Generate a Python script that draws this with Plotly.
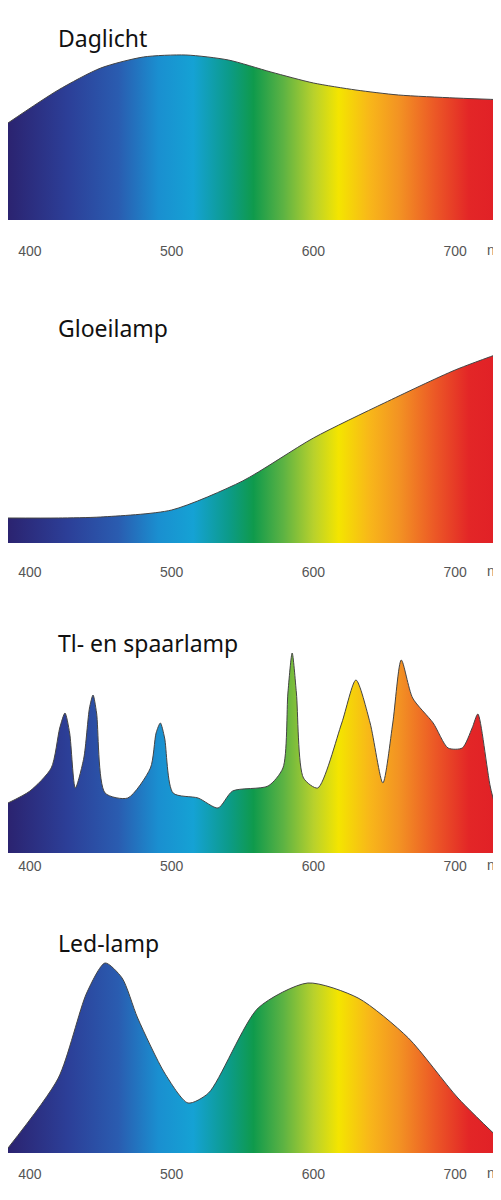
import plotly.graph_objects as go

titles = ["Daglicht", "Gloeilamp", "Tl- en spaarlamp", "Led-lamp"]
tick_vals = [400, 500, 600, 700]
tick_text = ["400", "500", "600", "700"]

day_nm = [384.5, 420, 450, 480, 510, 540, 570, 600, 630, 660, 700, 738]
day_val = [97, 130, 152, 163, 165, 160, 148, 137, 130, 125, 122, 120]

inc_nm = [384.5, 420, 450, 500, 550, 600, 650, 700, 738]
inc_val = [25, 25, 26, 33, 62, 105, 140, 173, 193]

tl_nm = [384.5, 400, 415, 421, 424.7, 428, 432, 438, 442, 444.5, 447, 453, 469, 485, 489, 492, 495, 501, 518.6, 532.7,
         543, 568, 578.5, 582, 585, 588, 593, 603, 620, 630, 640, 649, 656, 662, 670, 684.5, 695, 705, 712, 716, 725, 734, 738]
tl_val = [50, 62, 85, 125, 140, 120, 65, 95, 145, 158, 140, 60, 55, 85, 120, 130, 115, 60, 55, 45,
          62, 67, 85, 160, 200, 160, 75, 65, 130, 173, 130, 70, 130, 193, 155, 130, 105, 105, 125, 139, 65, 20, 10]

led_nm = [384.5, 420, 440, 453, 465, 476, 495, 511.5, 526, 561, 596, 631.5, 667, 702, 738]
led_val = [5, 75, 160, 190, 175, 135, 80, 50, 60, 145, 170, 155, 115, 55, 5]

series = [(day_nm, day_val), (inc_nm, inc_val), (tl_nm, tl_val), (led_nm, led_val)]

H = 1200.0
panels = [(40, 212, 242, 30), (330, 535, 563, 320), (640, 845, 857, 635), (950, 1145, 1165, 935)]

rainbow = [
    [0.0, "#2b2370"], [0.12, "#2c3f98"], [0.22, "#2a5cb0"], [0.30, "#1a8fd0"], [0.37, "#15a2d4"],
    [0.44, "#0c9b8a"], [0.49, "#0f9a4c"], [0.55, "#5db343"], [0.61, "#b8d12c"], [0.66, "#f4e500"],
    [0.72, "#f8b819"], [0.78, "#f39323"], [0.85, "#ec5a26"], [0.92, "#e32627"], [1.0, "#e01e26"]]

X0, X1 = 384.5, 738.0
fig = go.Figure()
annotations = []
for i, ((nm, val), (top, base, lab, tpx)) in enumerate(zip(series, panels)):
    ax = "" if i == 0 else str(i + 1)
    fig.add_trace(go.Scatter(
        x=nm, y=val, mode="lines", line=dict(color="#444", width=1, shape="spline", smoothing=0.7),
        fill="tozeroy",
        fillgradient=dict(type="horizontal", colorscale=rainbow, start=X0, stop=X1),
        xaxis="x" + ax, yaxis="y" + ax, showlegend=False, hoverinfo="skip"))
    fig.layout["yaxis" + ax] = dict(domain=[1 - base / H, 1 - top / H], range=[0, base - top],
                                    visible=False, anchor="x" + ax, fixedrange=True)
    fig.layout["xaxis" + ax] = dict(anchor="y" + ax, range=[X0, X1], tickvals=tick_vals, ticktext=tick_text,
                                    showgrid=False, zeroline=False, showline=False, ticks="",
                                    automargin=False,
                                    tickfont=dict(family="Liberation Sans", size=14, color="#555"),
                                    ticklabelstandoff=lab - base - 9)
    annotations.append(dict(text=titles[i], xref="paper", yref="paper", x=48 / 501, y=1 - tpx / H,
                            xanchor="left", yanchor="middle", showarrow=False,
                            font=dict(family="Noto Sans", size=23, color="#111")))
    annotations.append(dict(text="nm", xref="x" + ax, yref="paper", x=729, y=1 - lab / H,
                            xanchor="center", yanchor="middle", showarrow=False,
                            font=dict(family="Liberation Sans", size=14, color="#555")))

fig.update_layout(width=501, height=1200, margin=dict(l=0, r=0, t=0, b=0, pad=0, autoexpand=False),
                  paper_bgcolor="white", plot_bgcolor="white", annotations=annotations)
fig.write_html("out.html")
